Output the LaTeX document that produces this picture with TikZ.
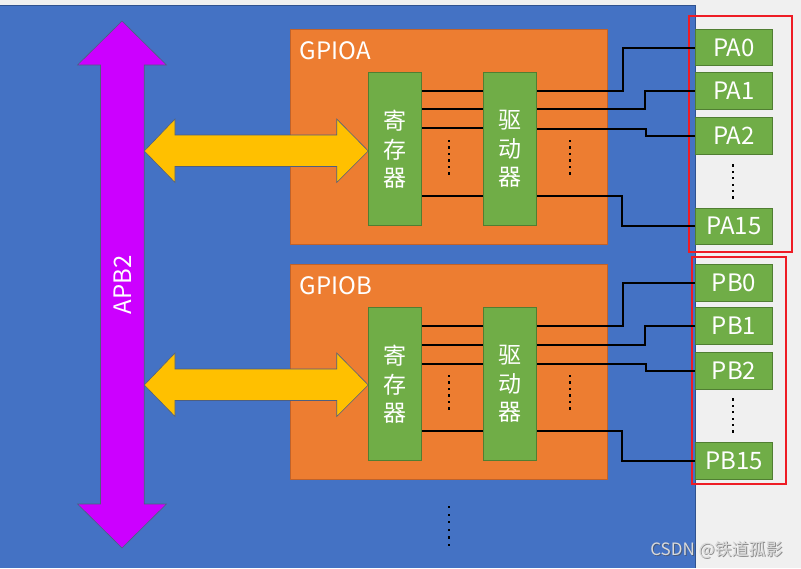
\documentclass[tikz,border=0pt]{standalone}
\usepackage{fontspec}
\setmainfont{Noto Sans CJK SC}
\usetikzlibrary{calc}
\definecolor{pagegrey}{HTML}{F0F0F0}
\definecolor{bgblue}{HTML}{4472C4}
\definecolor{bgblueline}{HTML}{2F528F}
\definecolor{gorange}{HTML}{ED7D31}
\definecolor{gorangeline}{HTML}{C0622A}
\definecolor{ggreen}{HTML}{70AD47}
\definecolor{ggreenline}{HTML}{507E32}
\definecolor{gyellow}{HTML}{FFC000}
\definecolor{gpurple}{HTML}{CC00FF}
\definecolor{gred}{HTML}{EE1C25}
\definecolor{arrowline}{HTML}{4F5F7F}
\tikzset{
  orangebox/.style={fill=gorange, draw=gorangeline, line width=1pt, minimum width=317pt, minimum height=215pt, inner sep=0pt},
  greenbox/.style={fill=ggreen, draw=ggreenline, line width=1pt, minimum width=53.5pt, minimum height=153.5pt, inner sep=0pt,
    text=white, align=center, font=\fontsize{23}{28.5}\selectfont},
  pinbox/.style={fill=ggreen, draw=ggreenline, line width=1pt, minimum width=76.5pt, minimum height=36.5pt, inner sep=0pt,
    text=white, font=\fontsize{24}{28}\selectfont},
  grouplabel/.style={text=white, anchor=base west, inner sep=0pt, font=\fontsize{24}{28}\selectfont},
  wire/.style={draw=black, line width=2pt},
  redframe/.style={draw=gred, line width=2pt},
  yarrow/.style={fill=gyellow, draw=arrowline, line width=0.6pt},
  parrow/.style={fill=gpurple, draw=arrowline, line width=0.6pt},
  dotmark/.style={fill=black},
}
\newcommand{\vdotsat}[4]{% x, ystart, spacing, count
  \foreach \k in {1,...,#4} {
    \fill[dotmark] ($(#1,#2)+(-1.1,{(\k-1)*#3-1.1})$) rectangle ++(2.2,2.2);
  }
}
\begin{document}
\begin{tikzpicture}[x=1pt,y=-1pt]
\useasboundingbox (0,0) rectangle (801,568);
\fill[pagegrey] (0,0) rectangle (801,568);
\fill[bgblue] (0,5) rectangle (695.5,568);
\draw[bgblueline, line width=1pt] (0,5) -- (695.5,5) -- (695.5,568);

% APB2 bus arrow
\draw[parrow] (122,21) -- (166.5,65) -- (144.2,65) -- (144.2,504) -- (166.5,504) -- (122,548)
  -- (77.5,504) -- (100.5,504) -- (100.5,65) -- (77.5,65) -- cycle;
\node[text=white, rotate=90, font=\fontsize{24}{28}\selectfont] (apb2) at (123,285) {APB2};

% GPIO port boxes
\node[orangebox] (gpioa) at (448.5,136.5) {};
\node[orangebox] (gpiob) at (448.5,371.5) {};
\node[grouplabel] (gpioalbl) at (299.5,59) {GPIOA};
\node[grouplabel] (gpioblbl) at (299.5,294) {GPIOB};

% yellow bus arrows
\foreach \dy in {0,234} {
  \draw[yarrow] (144.3,151+\dy) -- (175,119+\dy) -- (175,135+\dy) -- (336.7,135+\dy) -- (336.7,119+\dy)
    -- (368.3,151+\dy) -- (336.7,182.5+\dy) -- (336.7,166.5+\dy) -- (175,166.5+\dy) -- (175,182.5+\dy) -- cycle;
}

% register / driver boxes
\node[greenbox] (rega) at (394.8,149.2) {寄\\存\\器};
\node[greenbox] (drva) at (510,149.2) {驱\\动\\器};
\node[greenbox] (regb) at (394.8,384.2) {寄\\存\\器};
\node[greenbox] (drvb) at (510,384.2) {驱\\动\\器};

% pins
\node[pinbox] (pa0) at (734,47.7) {PA0};
\node[pinbox] (pa1) at (734,90.8) {PA1};
\node[pinbox] (pa2) at (734,135.8) {PA2};
\node[pinbox] (pa15) at (734,226.3) {PA15};
\node[pinbox] (pb0) at (734,283) {PB0};
\node[pinbox] (pb1) at (734,326) {PB1};
\node[pinbox] (pb2) at (734,370.8) {PB2};
\node[pinbox] (pb15) at (734,460.8) {PB15};

% red frames
\draw[redframe] (688.7,16.3) rectangle (792.3,252.3);
\draw[redframe] (692,257.3) rectangle (786,484);

% internal wires register -> driver
\foreach \yy in {91,109.3,128,196} {
  \draw[wire] (rega.east |- 0,\yy) -- (drva.west |- 0,\yy);
}
\foreach \yy in {326,344.5,363.5,431} {
  \draw[wire] (regb.east |- 0,\yy) -- (drvb.west |- 0,\yy);
}

% driver -> pins
\draw[wire] (drva.east |- 0,91) -| (pa0.west -| 623.3,0) -- (pa0.west);
\draw[wire] (drva.east |- 0,109.3) -| (pa1.west -| 645,0) -- (pa1.west);
\draw[wire] (drva.east |- 0,128.5) -| (pa2.west -| 646,0) -- (pa2.west);
\draw[wire] (drva.east |- 0,196) -| (pa15.west -| 621.7,0) -- (pa15.west);
\draw[wire] (drvb.east |- 0,326) -| (pb0.west -| 623.3,0) -- (pb0.west);
\draw[wire] (drvb.east |- 0,344.5) -| (pb1.west -| 645,0) -- (pb1.west);
\draw[wire] (drvb.east |- 0,363.5) -| (pb2.west -| 646,0) -- (pb2.west);
\draw[wire] (drvb.east |- 0,431) -| (pb15.west -| 621.7,0) -- (pb15.west);

% dots
\vdotsat{449.3}{141}{6.5}{6}
\vdotsat{570.3}{141}{6.5}{6}
\vdotsat{449.3}{376}{6.5}{6}
\vdotsat{570.3}{376}{6.5}{6}
\vdotsat{733}{165.5}{6.4}{6}
\vdotsat{733}{399.5}{6.4}{6}
\vdotsat{449.3}{507}{7.6}{6}

% watermark
\node[text=black!70, opacity=0.6, font=\fontsize{17}{20}\selectfont, inner sep=0pt] (wmshadow) at (717.5,550.5) {CSDN @铁道孤影};
\node[text=white!85!black, font=\fontsize{17}{20}\selectfont, inner sep=0pt] (wm) at (716.5,549.5) {CSDN @铁道孤影};
\end{tikzpicture}
\end{document}
